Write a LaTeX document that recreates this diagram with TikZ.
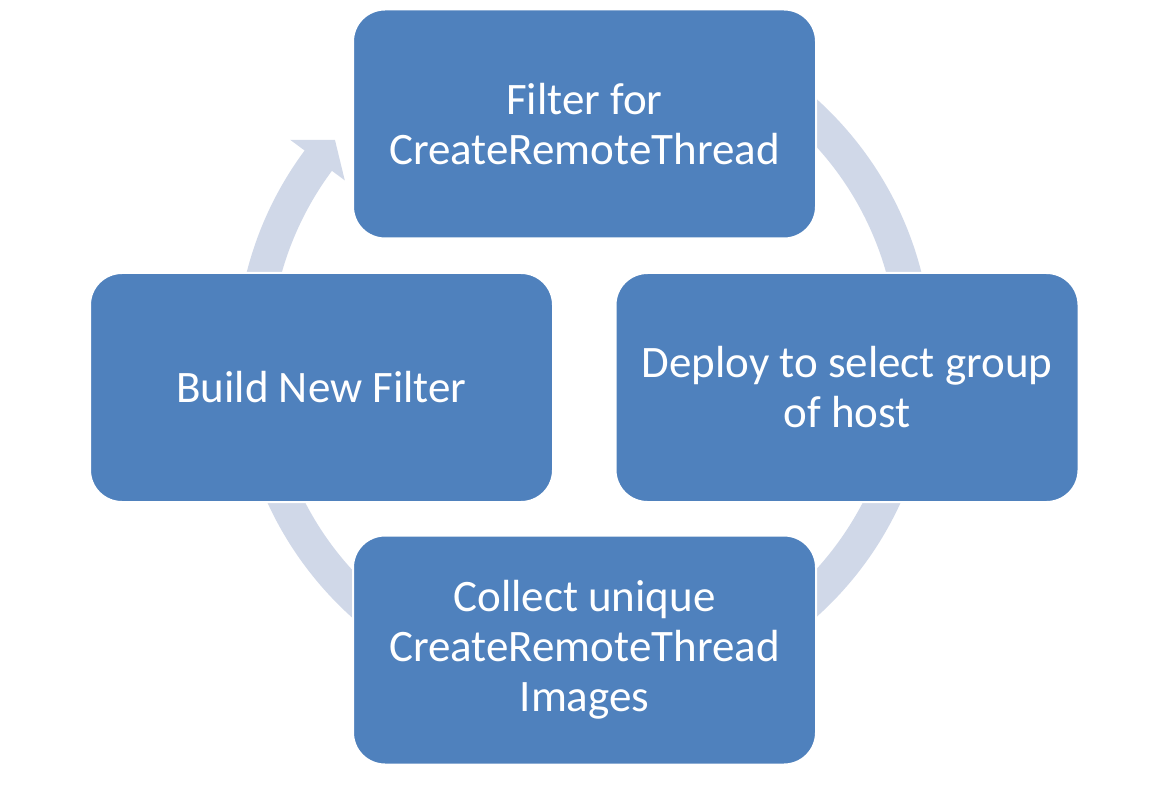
\documentclass[tikz,border=0pt]{standalone}
\usepackage{fontspec}
\setmainfont{Carlito}
\definecolor{boxblue}{RGB}{79,129,189}
\definecolor{ringblue}{RGB}{208,216,232}
\begin{document}
\begin{tikzpicture}[x=1pt,y=-1pt,
  stage/.style={rectangle, rounded corners=32pt, minimum width=463pt, minimum height=229pt,
    fill=boxblue, draw=white, line width=2pt, text=white, align=center, inner sep=0pt,
    font=\fontsize{45}{50}\selectfont},
  ring/.style={fill=ringblue, draw=none}]
\useasboundingbox[fill=white] (0,0) rectangle (1156,802);
% circular arrow behind the boxes
\coordinate (ctr) at (584,358);
\begin{scope}[shift={(ctr)}]
\fill[ring] (232:348) arc[start angle=232, end angle=576.6, radius=348]
  -- (576.6:366) -- (581.2:331) -- (576.6:298) -- (576.6:314)
  arc[start angle=576.6, end angle=232, radius=314] -- cycle;
\end{scope}
\node[stage] (filter) at (584.5,124) {Filter for\\CreateRemoteThread};
\node[stage] (deploy) at (847,387.5) {Deploy to select group\\of host};
\node[stage] (collect) at (584.5,650) {Collect unique\\CreateRemoteThread\\Images};
\node[stage] (build) at (321.5,387.5) {Build New Filter};
\end{tikzpicture}
\end{document}
